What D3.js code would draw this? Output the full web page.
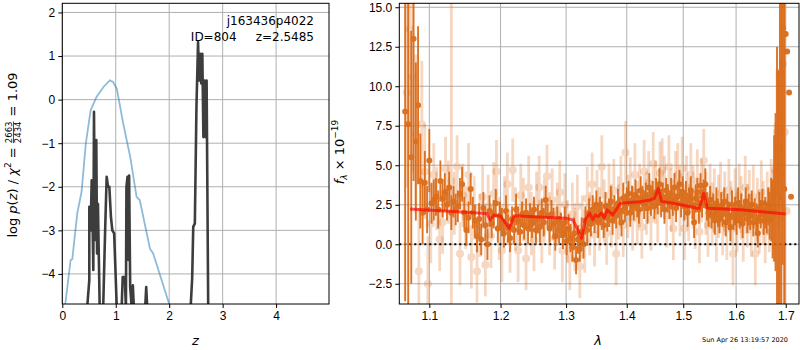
<!DOCTYPE html>
<html>
<head>
<meta charset="utf-8">
<script src="https://cdn.jsdelivr.net/npm/d3@7"></script>
<style>
body { margin: 0; background: #fff; }
svg { font-family: "DejaVu Sans", sans-serif; }
.tick text { font-size: 12px; fill: #000; }
.tick line { stroke: #000; }
.domain { display: none; }
</style>
</head>
<body>
<svg id="chart" width="800" height="350"></svg>
<script>
// left panel: p(z) curves
var zPrior = [0.056,0.11,0.156,0.187,0.28,0.36,0.44,0.53,0.64,0.77,0.89,0.95,1.02,1.14,1.27,1.39,1.45,1.64,1.70,2.0];
var pPrior = [-4.69,-4.14,-3.68,-3.66,-2.61,-2.12,-1.01,-0.245,0.06,0.29,0.44,0.405,0.25,-0.55,-1.31,-2.23,-2.31,-3.42,-3.53,-4.69];

var zPost = [0.40,0.47,0.505,0.505,0.53,0.55,0.568,0.58,0.593,0.61,0.636,0.65,0.667,0.68,0.70,0.75,0.80,0.83,0.855,0.88,0.91,0.936,0.97,1.02,1.11,1.13,1.17,1.19,1.20,1.22,1.24,1.25,1.27,1.30,1.32,1.34,1.55,1.57,1.59,2.40,2.43,2.45,2.48,2.51,2.54,2.56,2.58,2.60,2.62,2.64,2.66,2.68,2.70,2.73,2.80];
var pPost = [-7,-4.7,-4.14,-2.46,-3.0,-1.85,-2.92,-3.91,-0.28,-3.22,-0.93,-3.53,-2.39,-3.38,-4.8,-5.5,-3.07,-1.77,-2.0,-2.0,-2.69,-3.0,-3.07,-4.8,-4.8,-4.07,-4.07,-4.8,-2.0,-1.77,-3.68,-1.74,-4.3,-4.8,-4.26,-4.8,-4.8,-4.3,-4.8,-4.8,-4.1,-2.92,-2.84,-0.17,1.32,0.44,1.05,0.37,1.05,-0.86,0.44,-0.86,0.44,-4.8,-7];

var zTicks = [0,1,2,3,4];
var pTicks = [-4,-3,-2,-1,0,1,2];

// right panel: spectrum
var lamDark = [1.068,1.072,1.076,1.079,1.082,1.085,1.088,1.091,1.094,1.097,1.100,1.103,1.106,1.109,1.112,1.115,1.118,1.121,1.124,1.127,1.130,1.133,1.136,1.139,1.142,1.145,1.148,1.151,1.154,1.157,1.160,1.163,1.166,1.169,1.172,1.175,1.178,1.181,1.184,1.187,1.190,1.193,1.196,1.199,1.202,1.205,1.208,1.211,1.214,1.217,1.220,1.223,1.226,1.229,1.232,1.235,1.238,1.241,1.244,1.247,1.250,1.253,1.256,1.259,1.262,1.265,1.268,1.271,1.274,1.277,1.280,1.283,1.286,1.289,1.292,1.295,1.298,1.301,1.304,1.307,1.310,1.313,1.316,1.319,1.322,1.325,1.328,1.331,1.334,1.337,1.340,1.343,1.346,1.349,1.352,1.355,1.358,1.361,1.364,1.367,1.370,1.373,1.376,1.379,1.382,1.385,1.388,1.391,1.394,1.397,1.400,1.403,1.406,1.409,1.412,1.415,1.418,1.421,1.424,1.427,1.430,1.433,1.436,1.439,1.442,1.445,1.448,1.451,1.454,1.457,1.460,1.463,1.466,1.469,1.472,1.475,1.478,1.481,1.484,1.487,1.490,1.493,1.496,1.499,1.502,1.505,1.508,1.511,1.514,1.517,1.520,1.523,1.526,1.529,1.532,1.535,1.538,1.541,1.544,1.547,1.550,1.553,1.556,1.559,1.562,1.565,1.568,1.571,1.574,1.577,1.580,1.583,1.586,1.589,1.592,1.595,1.598,1.601,1.604,1.607,1.610,1.613,1.616,1.619,1.622,1.625,1.628,1.631,1.634,1.637,1.640,1.643,1.646,1.649,1.652,1.655,1.658,1.661,1.664,1.667,1.670,1.673,1.676,1.679,1.682,1.685,1.688,1.691,1.694,1.697,1.700,1.703,1.707,1.711];
var fluxDark = [8.4,7.6,5.5,13.0,6.5,8.8,4.0,2.0,3.9,2.2,5.3,2.6,2.8,3.0,2.2,4.0,2.9,3.3,2.5,3.6,2.0,2.7,2.2,2.4,3.2,3.8,2.0,0.9,1.7,3.5,2.0,1.5,0.5,1.6,0.3,2.3,1.2,0.0,2.1,1.3,1.9,2.6,1.0,1.8,1.4,0.7,2.1,1.0,0.4,1.6,0.9,2.2,1.5,0.8,1.9,1.2,2.0,1.0,1.7,1.3,2.2,0.9,1.6,1.1,2.0,1.4,2.8,1.8,1.0,1.9,1.3,0.5,1.5,0.9,1.2,0.6,1.4,0.2,1.0,0.4,-0.2,0.7,-1.0,0.3,-0.3,0.8,0.0,1.5,0.9,2.0,1.3,2.2,1.6,2.5,1.4,2.1,1.8,1.2,2.4,1.7,2.0,2.7,1.5,2.2,1.8,2.6,2.1,1.4,2.9,2.3,2.7,3.2,2.0,2.8,2.4,3.1,2.6,2.2,3.4,2.9,2.5,3.0,2.3,3.6,2.7,3.1,2.4,3.3,2.8,3.8,2.6,3.0,2.2,3.4,2.9,2.5,3.2,2.7,3.6,2.3,3.0,3.8,2.6,3.3,2.4,3.1,2.0,2.8,3.4,2.5,1.4,2.9,3.3,2.2,3.7,2.6,3.2,3.8,2.4,2.0,2.8,1.8,2.3,1.5,2.6,2.0,1.6,2.4,1.9,2.7,1.4,2.2,1.8,1.1,2.5,1.7,2.1,1.5,2.6,1.9,2.3,1.3,2.0,2.7,1.6,2.2,1.8,2.5,1.4,2.1,1.7,0.7,2.3,1.9,2.6,1.5,2.0,1.7,2.4,1.8,2.2,1.6,2.9,3.3,2.5,3.0,8.2,4.5,13.7,3.5,13.3,12.2,9.6,3.0];
var errDark = [12,12,8,9,5,5,3,2,2,1.5,2,1.3,1.3,1.2,1.2,1.3,1.2,1.2,1.0,1.0,1.1,1.0,1.0,1.0,1.0,1.1,1.0,1.0,1.0,1.0,1.0,1.0,1.0,1.0,1.0,1.0,1.0,1.0,1.0,0.9,0.9,0.9,0.9,0.9,0.9,0.9,1.0,0.9,0.9,0.8,0.9,1.0,0.9,0.9,0.8,0.9,0.9,1.0,0.9,0.9,0.8,0.9,0.9,1.0,0.9,0.9,0.9,0.8,0.9,0.9,1.0,0.9,0.9,0.9,0.8,0.9,1.0,0.9,0.9,0.9,0.9,1.0,0.9,0.9,0.8,0.9,0.9,0.9,1.0,0.9,0.8,0.9,0.9,0.9,1.0,0.9,0.9,0.8,0.9,0.9,0.9,1.0,0.9,0.9,0.8,0.9,0.9,0.9,1.0,0.9,0.9,0.8,0.9,0.9,0.9,1.0,0.9,0.9,0.9,0.8,0.9,0.9,1.0,0.9,0.9,0.9,0.8,0.9,0.9,1.0,0.9,0.9,0.9,0.8,0.9,0.9,1.0,0.9,0.9,0.9,0.8,0.9,0.9,1.0,0.9,0.9,0.9,0.8,0.9,0.9,1.0,0.9,0.9,0.9,0.8,0.9,0.9,1.0,0.9,0.9,0.9,0.8,0.9,0.9,1.0,0.9,0.9,0.9,0.8,0.9,0.9,1.0,0.9,0.9,0.9,0.8,0.9,0.9,1.0,0.9,0.9,0.9,0.8,0.9,0.9,1.0,0.9,0.9,0.9,0.8,0.9,0.9,1.0,0.9,0.9,0.9,1.0,1.0,1.2,1.5,2.0,2.5,4,5,10,8,12,14,15,20];

var lamLight = [1.070,1.074,1.078,1.082,1.086,1.090,1.094,1.098,1.102,1.106,1.110,1.114,1.118,1.122,1.126,1.130,1.134,1.138,1.142,1.146,1.150,1.154,1.158,1.162,1.166,1.170,1.174,1.178,1.182,1.186,1.190,1.194,1.198,1.202,1.206,1.210,1.214,1.218,1.222,1.226,1.230,1.234,1.238,1.242,1.246,1.250,1.254,1.258,1.262,1.266,1.270,1.274,1.278,1.282,1.286,1.290,1.294,1.298,1.302,1.306,1.310,1.314,1.318,1.322,1.326,1.330,1.334,1.338,1.342,1.346,1.350,1.354,1.358,1.362,1.366,1.370,1.374,1.378,1.382,1.386,1.390,1.394,1.398,1.402,1.406,1.410,1.414,1.418,1.422,1.426,1.430,1.434,1.438,1.442,1.446,1.450,1.454,1.458,1.462,1.466,1.470,1.474,1.478,1.482,1.486,1.490,1.494,1.498,1.502,1.506,1.510,1.514,1.518,1.522,1.526,1.530,1.534,1.538,1.542,1.546,1.550,1.554,1.558,1.562,1.566,1.570,1.574,1.578,1.582,1.586,1.590,1.594,1.598,1.602,1.606,1.610,1.614,1.618,1.622,1.626,1.630,1.634,1.638,1.642,1.646,1.650,1.654,1.658,1.662,1.666,1.670,1.674,1.678,1.682,1.686,1.690,1.694,1.698,1.702];
var fluxLight = [9.6,13.6,10.6,7.0,-1.7,7.6,4.6,-2.5,1.3,4.4,2.9,0.3,1.4,4.8,3.3,4.0,2.6,4.9,-0.6,3.1,1.7,4.4,-0.8,2.3,-1.7,1.2,3.0,-1.3,2.4,0.5,3.2,4.6,1.0,-0.4,2.3,3.8,0.2,4.7,1.6,-0.4,3.1,2.2,-0.9,3.6,1.3,0.3,2.6,3.6,0.8,2.1,4.3,1.3,2.8,0.4,1.9,3.3,-0.4,2.5,0.8,-0.9,1.9,0.3,2.4,-1.4,1.1,0.2,2.9,1.3,3.8,0.6,2.7,1.6,4.9,2.1,0.7,3.1,1.8,3.4,-0.6,2.3,3.6,1.2,5.8,2.4,3.5,1.6,4.4,2.0,3.1,1.1,4.6,2.6,3.9,1.6,5.1,3.3,2.1,4.5,4.7,3.6,1.8,4.9,2.8,1.0,3.9,4.4,2.5,4.8,1.0,3.6,2.2,4.4,3.0,1.7,4.0,0.8,3.4,5.3,2.6,1.2,3.1,1.9,2.8,0.9,2.4,3.2,1.3,2.6,1.0,3.4,2.0,-0.6,2.8,1.5,3.1,2.3,0.9,3.6,1.8,2.7,1.2,3.0,-0.6,2.2,1.4,3.3,2.0,0.8,2.6,1.5,3.4,2.2,4.7,7.1,6.1,10.8,11.4,7.1,2.1];
var errLight = [6,8,6,5,4,4,3,3,2.5,2,2,2,2,2,2,14,2,2,2,2,2,2,2,2,2,2,2,2,2,2,2,2,2,2,2,2,2,2,2,2,2,2,2,2,2,2,2,2,2,2,2,2,2,2,2,2,2,2,2,2,2,2,2,2,2,2,2,2,2,2,2,2,2,2,2,2,2,2,2,2,2,2,2,2,2,2,2,2,2,2,2,2,2,2,2,2,2,2,2,2,2,2,2,2,2,2,2,2,2,2,2,2,2,2,2,2,2,2,2,2,2,2,2,2,2,2,2,2,2,2,2,2,2,2,2,2,2,2,2,2,2,2,2,2,2,2,2,2,2,2,2,2.5,3,4,5,8,10,12];

var lamModel = [1.0744,1.180,1.185,1.190,1.200,1.213,1.220,1.300,1.311,1.325,1.331,1.338,1.343,1.347,1.352,1.357,1.362,1.367,1.376,1.381,1.389,1.423,1.440,1.448,1.455,1.461,1.482,1.526,1.530,1.538,1.545,1.610,1.700];
var fluxModel = [2.23,1.95,1.54,1.83,1.78,1.01,1.8,1.65,1.54,0.38,1.55,1.97,1.55,1.86,1.75,1.97,1.66,2.18,1.86,2.13,2.59,2.69,2.8,2.9,3.54,2.7,2.6,2.28,2.3,3.22,2.28,2.18,1.92];

var lamTicks = [1.1,1.2,1.3,1.4,1.5,1.6,1.7];
var fluxTicks = [-2.5,0,2.5,5,7.5,10,12.5,15];

var svg = d3.select("#chart");
var orange = "#d9650f";

// ---- left panel ----
var xL = d3.scaleLinear().domain([0, 4.99]).range([62.3, 329]);
var yL = d3.scaleLinear().domain([-4.69, 2.21]).range([304, 3.3]);

svg.append("clipPath").attr("id", "clipL").append("rect")
  .attr("x", 62.3).attr("y", 3.3).attr("width", 329 - 62.3).attr("height", 304 - 3.3);

var gL = svg.append("g");
gL.append("g").selectAll("line").data(zTicks).enter().append("line")
  .attr("x1", d => xL(d)).attr("x2", d => xL(d)).attr("y1", 3.3).attr("y2", 304)
  .attr("stroke", "#b0b0b0").attr("stroke-width", 1);
gL.append("g").selectAll("line").data(pTicks).enter().append("line")
  .attr("x1", 62.3).attr("x2", 329).attr("y1", d => yL(d)).attr("y2", d => yL(d))
  .attr("stroke", "#b0b0b0").attr("stroke-width", 1);

var lineL = d3.line().x((d, i) => xL(d[0])).y(d => yL(d[1]));
var plotL = gL.append("g").attr("clip-path", "url(#clipL)");
plotL.append("path").datum(zPrior.map((z, i) => [z, pPrior[i]]))
  .attr("d", lineL).attr("fill", "none").attr("stroke", "#1f77b4").attr("stroke-opacity", 0.5).attr("stroke-width", 1.8);
plotL.append("path").datum(zPost.map((z, i) => [z, pPost[i]]))
  .attr("d", lineL).attr("fill", "none").attr("stroke", "#333").attr("stroke-opacity", 0.95).attr("stroke-width", 2.6)
  .attr("stroke-linejoin", "round");

gL.append("rect").attr("x", 62.3).attr("y", 3.3).attr("width", 329 - 62.3).attr("height", 304 - 3.3)
  .attr("fill", "none").attr("stroke", "#000").attr("stroke-width", 1);

gL.append("g").attr("transform", "translate(0,304)")
  .call(d3.axisBottom(xL).tickValues(zTicks).tickFormat(d3.format("d")).tickSize(4).tickPadding(3));
gL.append("g").attr("transform", "translate(62.3,0)")
  .call(d3.axisLeft(yL).tickValues(pTicks).tickFormat(d3.format("d")).tickSize(4).tickPadding(3));

gL.append("text").attr("x", 314).attr("y", 25).attr("text-anchor", "end").attr("font-size", 12).text("j163436p4022");
gL.append("text").attr("x", 314).attr("y", 40.5).attr("text-anchor", "end").attr("font-size", 12)
  .style("white-space", "pre").text("ID=804     z=2.5485");

gL.append("text").attr("x", 195.5).attr("y", 345).attr("text-anchor", "middle").attr("font-size", 13)
  .attr("font-style", "italic").text("z");

// rotated math label helper
function mathLabel(cx, cy, pieces) {
  var g = svg.append("g").attr("transform", "translate(" + cx + "," + cy + ") rotate(-90)");
  var inner = g.append("g");
  var x = 0;
  pieces.forEach(function(p) {
    if (p.frac) {
      var n = inner.append("text").attr("x", x).attr("y", -5).attr("font-size", 8.5).text(p.frac[0]);
      var d = inner.append("text").attr("x", x).attr("y", 4).attr("font-size", 8.5).text(p.frac[1]);
      var w = Math.max(n.node().getComputedTextLength(), d.node().getComputedTextLength());
      inner.append("line").attr("x1", x).attr("x2", x + w).attr("y1", -3.5).attr("y2", -3.5)
        .attr("stroke", "#000").attr("stroke-width", 0.7);
      x += w + 1;
    } else {
      var t = inner.append("text").attr("x", x).attr("y", p.dy || 0)
        .attr("font-size", p.size || 13).style("white-space", "pre").text(p.t);
      if (p.it) t.attr("font-style", "italic");
      x += t.node().getComputedTextLength();
    }
  });
  inner.attr("transform", "translate(" + (-x / 2) + ",0)");
}

mathLabel(17, 155, [
  {t: "log "}, {t: "p", it: true}, {t: "("}, {t: "z", it: true}, {t: ") / "}, {t: "χ", it: true},
  {t: "2", size: 9, dy: -6}, {t: " = "}, {frac: ["2663", "2434"]}, {t: " = 1.09"}
]);

// ---- right panel ----
var xR = d3.scaleLog().domain([1.0604, 1.7278]).range([399.3, 799]);
var yR = d3.scaleLinear().domain([-3.78, 15.25]).range([304, 3.3]);

svg.append("clipPath").attr("id", "clipR").append("rect")
  .attr("x", 399.3).attr("y", 3.3).attr("width", 799 - 399.3).attr("height", 304 - 3.3);

var gR = svg.append("g");
gR.append("g").selectAll("line").data(lamTicks).enter().append("line")
  .attr("x1", d => xR(d)).attr("x2", d => xR(d)).attr("y1", 3.3).attr("y2", 304)
  .attr("stroke", "#b0b0b0").attr("stroke-width", 1);
gR.append("g").selectAll("line").data(fluxTicks).enter().append("line")
  .attr("x1", 399.3).attr("x2", 799).attr("y1", d => yR(d)).attr("y2", d => yR(d))
  .attr("stroke", "#b0b0b0").attr("stroke-width", 1);

var plotR = gR.append("g").attr("clip-path", "url(#clipR)");

var light = lamLight.map((l, i) => ({l: l, f: fluxLight[i], e: errLight[i]}));
var dark = lamDark.map((l, i) => ({l: l, f: fluxDark[i], e: errDark[i]}));

light.forEach(function(d) {
  var g = plotR.append("g").attr("opacity", 0.25);
  g.append("line").attr("x1", xR(d.l)).attr("x2", xR(d.l))
    .attr("y1", yR(d.f - d.e)).attr("y2", yR(d.f + d.e))
    .attr("stroke", orange).attr("stroke-width", 2.8);
  g.append("circle").attr("cx", xR(d.l)).attr("cy", yR(d.f)).attr("r", 4).attr("fill", orange);
});

plotR.append("line").attr("x1", 399.3).attr("x2", 799).attr("y1", yR(0)).attr("y2", yR(0))
  .attr("stroke", "#000").attr("stroke-width", 2).attr("stroke-dasharray", "2,3");

var gDark = plotR.append("g").attr("opacity", 0.9);
gDark.selectAll("line").data(dark).enter().append("line")
  .attr("x1", d => xR(d.l)).attr("x2", d => xR(d.l))
  .attr("y1", d => yR(d.f - d.e)).attr("y2", d => yR(d.f + d.e))
  .attr("stroke", orange).attr("stroke-width", 1.9);
gDark.selectAll("circle").data(dark).enter().append("circle")
  .attr("cx", d => xR(d.l)).attr("cy", d => yR(d.f)).attr("r", 3).attr("fill", orange);

plotR.append("path").datum(lamModel.map((l, i) => [l, fluxModel[i]]))
  .attr("d", d3.line().x(d => xR(d[0])).y(d => yR(d[1])))
  .attr("fill", "none").attr("stroke", "red").attr("stroke-opacity", 0.65).attr("stroke-width", 3)
  .attr("stroke-linejoin", "round");

gR.append("rect").attr("x", 399.3).attr("y", 3.3).attr("width", 799 - 399.3).attr("height", 304 - 3.3)
  .attr("fill", "none").attr("stroke", "#000").attr("stroke-width", 1);

gR.append("g").attr("transform", "translate(0,304)")
  .call(d3.axisBottom(xR).tickValues(lamTicks).tickFormat(d3.format(".1f")).tickSize(4).tickPadding(3));
gR.append("g").attr("transform", "translate(399.3,0)")
  .call(d3.axisLeft(yR).tickValues(fluxTicks).tickFormat(d3.format(".1f")).tickSize(4).tickPadding(3));

gR.append("text").attr("x", 598).attr("y", 345).attr("text-anchor", "middle").attr("font-size", 13)
  .attr("font-style", "italic").text("λ");

mathLabel(344, 152, [
  {t: "f", it: true}, {t: "λ", it: true, size: 9, dy: 3}, {t: " × 10"}, {t: "−19", size: 9, dy: -6}
]);

svg.append("text").attr("x", 788).attr("y", 342).attr("text-anchor", "end").attr("font-size", 6.5)
  .text("Sun Apr 26 13:19:57 2020");
</script>
</body>
</html>
